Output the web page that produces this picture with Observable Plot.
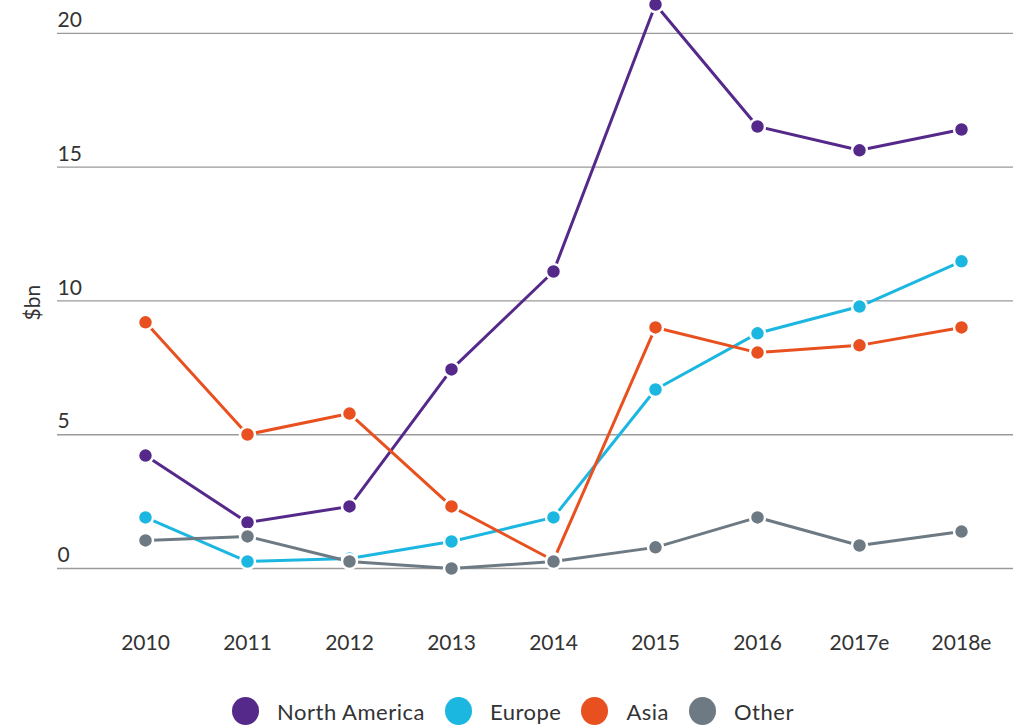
<!DOCTYPE html>
<html>
<head>
<meta charset="utf-8">
<script src="https://cdn.jsdelivr.net/npm/d3@7"></script>
<script src="https://cdn.jsdelivr.net/npm/@observablehq/plot@0.6"></script>
<style>
  html, body { margin: 0; padding: 0; background: #fff; }
  body { width: 1018px; height: 726px; overflow: hidden; font-family: Lato, "Open Sans", sans-serif; }
  #legend { display: flex; justify-content: center; align-items: center; height: 42px; margin-left: 8px; font-size: 22px; letter-spacing: 0.5px; color: #333; }
  .item { display: flex; align-items: center; margin: 0 10px; }
  .sw { width: 27px; height: 28px; border-radius: 50%; margin-right: 18px; }
</style>
</head>
<body>
<div id="chart"></div>
<div id="legend"></div>
<script>
const years = ["2010", "2011", "2012", "2013", "2014", "2015", "2016", "2017e", "2018e"];
const seriesNames = ["North America", "Europe", "Asia", "Other"];
const colors = ["#55298a", "#1cb7e0", "#e8511f", "#6d7a83"];
const northAmerica = [4.22, 1.72, 2.32, 7.44, 11.1, 21.08, 16.52, 15.63, 16.41];
const europe = [1.91, 0.26, 0.37, 1.01, 1.91, 6.69, 8.79, 9.79, 11.48];
const asia = [9.2, 5.01, 5.79, 2.32, 0.3, 9.01, 8.07, 8.34, 9.01];
const other = [1.05, 1.2, 0.26, 0.0, 0.26, 0.79, 1.91, 0.86, 1.38];
const yTicks = [0, 5, 10, 15, 20];

const seriesValues = [northAmerica, europe, asia, other];
const data = [];
seriesNames.forEach((s, i) => {
  years.forEach((y, j) => data.push({series: s, year: y, value: seriesValues[i][j]}));
});

const chart = Plot.plot({
  width: 1018,
  height: 690,
  marginTop: 0,
  marginBottom: 122,
  marginLeft: 57,
  marginRight: 5,
  style: {fontFamily: "Lato, 'Open Sans', sans-serif", color: "#333", overflow: "visible"},
  x: {type: "point", domain: years, range: [143, 962], padding: 0},
  y: {domain: [0, 21.23]},
  color: {domain: seriesNames, range: colors},
  marks: [
    Plot.ruleY(yTicks, {stroke: "#9a9a9a", strokeWidth: 1.3}),
    Plot.axisY(yTicks, {anchor: "left", tickSize: 0, tickPadding: 0, textAnchor: "start", dx: 0, dy: -13, fontSize: 21, fill: "#333", label: null}),
    Plot.axisX({anchor: "bottom", tickSize: 0, tickPadding: 67, fontSize: 21, fill: "#333", label: null}),
    Plot.text(["$bn"], {frameAnchor: "left", dx: -24, dy: 36, rotate: -90, fontSize: 21, fill: "#333"}),
    Plot.line(data, {x: "year", y: "value", z: "series", stroke: "series", strokeWidth: 3}),
    Plot.dot(data, {x: "year", y: "value", fill: "series", r: 7.5, stroke: "white", strokeWidth: 2.5})
  ]
});
document.getElementById("chart").appendChild(chart);

const legend = document.getElementById("legend");
seriesNames.forEach((s, i) => {
  const it = document.createElement("div");
  it.className = "item";
  const sw = document.createElement("span");
  sw.className = "sw";
  sw.style.background = colors[i];
  it.appendChild(sw);
  const t = document.createElement("span");
  t.textContent = s;
  it.appendChild(t);
  legend.appendChild(it);
});
</script>
</body>
</html>
